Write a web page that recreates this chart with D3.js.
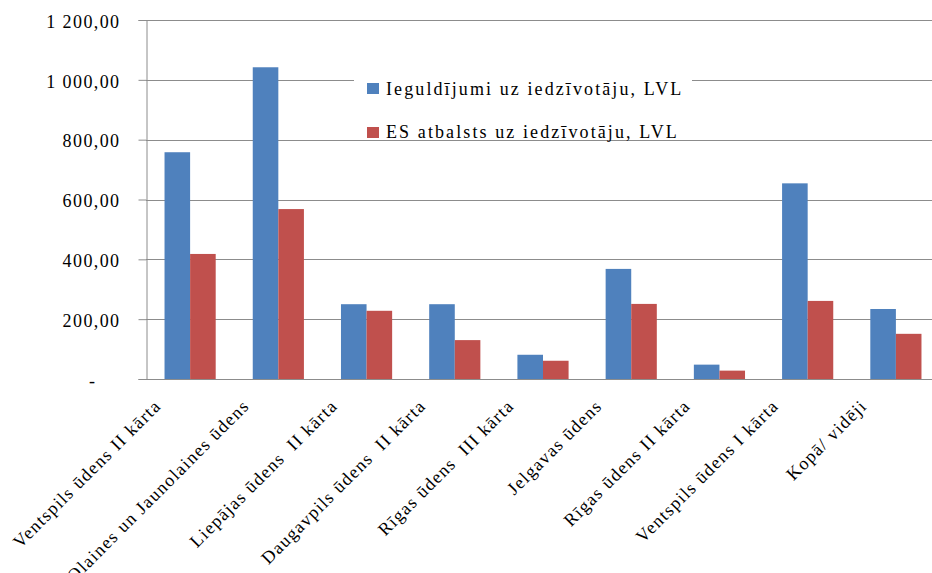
<!DOCTYPE html>
<html>
<head>
<meta charset="utf-8">
<script src="https://cdn.jsdelivr.net/npm/d3@7"></script>
<style>
  body { margin: 0; background: #fff; }
  text { font-family: "Liberation Serif", "DejaVu Serif", serif; fill: #000; }
</style>
</head>
<body>
<svg id="chart" width="932" height="573"></svg>
<script>
const categories = [
    "Ventspils ūdens II kārta",
    "Olaines un Jaunolaines ūdens",
    "Liepājas ūdens  II kārta",
    "Daugavpils ūdens  II kārta",
    "Rīgas ūdens  III kārta",
    "Jelgavas ūdens",
    "Rīgas ūdens II kārta",
    "Ventspils ūdens I kārta",
    "Kopā/ vidēji"
];
const seriesNames = ["Ieguldījumi uz iedzīvotāju, LVL", "ES atbalsts uz iedzīvotāju, LVL"];
const investPerCapita = [758, 1042, 250, 250, 81, 368, 48, 654, 234];
const euPerCapita = [418, 568, 228, 130, 61, 251, 28, 261, 151];
const yTicks = [0, 200, 400, 600, 800, 1000, 1200];

const colors = ["#4f81bd", "#c0504d"];
const gridColor = "#8c8c8c";

const width = 932, height = 573;
const plot = {left: 146, top: 20, bottom: 379, right: 940};

const svg = d3.select("#chart");

const y = d3.scaleLinear().domain([0, 1200]).range([plot.bottom, plot.top]);
const x0 = d3.scaleBand().domain(categories).range([plot.left, plot.right])
    .paddingInner(0.42).paddingOuter(0.21);
const x1 = d3.scaleBand().domain(seriesNames).range([0, x0.bandwidth()]);

const lv = d3.formatLocale({decimal: ",", thousands: " ", grouping: [3], currency: ["", ""]});
const fmt = lv.format(",.2f");

// horizontal gridlines
svg.append("g")
    .selectAll("line")
    .data(yTicks.slice(1))
    .join("line")
    .attr("x1", plot.left).attr("x2", width)
    .attr("y1", d => Math.round(y(d)) + 0.5).attr("y2", d => Math.round(y(d)) + 0.5)
    .style("stroke", gridColor);

// y axis
const yAxis = svg.append("g")
    .attr("transform", `translate(${plot.left + 0.5},0)`)
    .call(d3.axisLeft(y).tickValues(yTicks).tickSize(8).tickPadding(18)
        .tickFormat(d => d === 0 ? "-" : fmt(d)));
yAxis.select(".domain").style("stroke", gridColor);
yAxis.selectAll(".tick line").style("stroke", gridColor);
yAxis.selectAll(".tick text")
    .style("font-size", "18px")
    .style("letter-spacing", "1.4px")
    .attr("dy", "0.4em")
    .attr("x", d => d === 0 ? -50 : -26);

// legend box (drawn over gridlines)
const legend = svg.append("g");
legend.append("rect")
    .attr("x", 354).attr("y", 70).attr("width", 338).attr("height", 68)
    .style("fill", "#fff");
seriesNames.forEach((name, i) => {
    legend.append("rect")
        .attr("x", 367).attr("y", 83 + i * 44)
        .attr("width", 12).attr("height", 11)
        .style("fill", colors[i]);
    legend.append("text")
        .attr("x", 386).attr("y", 95 + i * 43)
        .style("font-size", "18px")
        .style("letter-spacing", "2.1px")
        .text(name);
});

// bars
const rows = categories.map((c, i) => ({cat: c, vals: [investPerCapita[i], euPerCapita[i]]}));
svg.append("g")
    .selectAll("g")
    .data(rows)
    .join("g")
    .attr("transform", d => `translate(${x0(d.cat)},0)`)
    .selectAll("rect")
    .data(d => d.vals.map((v, j) => ({name: seriesNames[j], v: v, j: j})))
    .join("rect")
    .attr("x", d => x1(d.name))
    .attr("width", x1.bandwidth())
    .attr("y", d => y(d.v))
    .attr("height", d => y(0) - y(d.v))
    .style("fill", d => colors[d.j]);

// category axis line
svg.append("line")
    .attr("x1", plot.left).attr("x2", width)
    .attr("y1", Math.round(y(0)) + 0.5).attr("y2", Math.round(y(0)) + 0.5)
    .style("stroke", gridColor);

// rotated category labels
svg.append("g")
    .selectAll("text")
    .data(categories)
    .join("text")
    .attr("transform", d => `translate(${x0(d) + x0.bandwidth() / 2 - 28},407) rotate(-45)`)
    .attr("text-anchor", "end")
    .style("font-size", "18px")
    .style("letter-spacing", "1.3px")
    .style("white-space", "pre")
    .text(d => d);
</script>
</body>
</html>
